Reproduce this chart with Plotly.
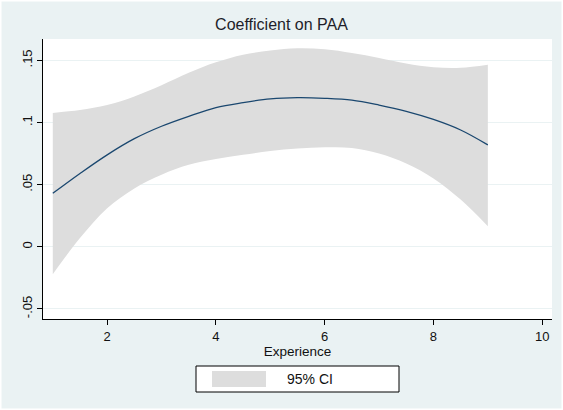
import plotly.graph_objects as go

# Data
experience = [1, 1.5, 2, 2.5, 3, 3.5, 4, 4.5, 5, 5.5, 6, 6.5, 7, 7.5, 8, 8.5, 9]
coef = [0.043, 0.059, 0.074, 0.087, 0.097, 0.105, 0.112, 0.116, 0.119, 0.120,
        0.1195, 0.118, 0.114, 0.109, 0.1025, 0.094, 0.082]
ci_upper = [0.1077, 0.110, 0.114, 0.121, 0.130, 0.140, 0.1484, 0.1545, 0.158, 0.1598,
            0.159, 0.156, 0.152, 0.1475, 0.1445, 0.1440, 0.1465]
ci_lower = [-0.022, 0.007, 0.031, 0.047, 0.058, 0.066, 0.0707, 0.074, 0.077, 0.079,
            0.080, 0.0795, 0.075, 0.067, 0.055, 0.038, 0.0166]

x_ticks = [2, 4, 6, 8, 10]
y_ticks = [-0.05, 0, 0.05, 0.1, 0.15]
y_tick_labels = ["-.05", "0", ".05", ".1", ".15"]

BG = "#EAF2F3"
CI_COLOR = "#DDDDDD"
LINE_COLOR = "#1A476F"
FONT = "Liberation Sans, Arial, sans-serif"

fig = go.Figure()
fig.add_trace(go.Scatter(
    x=experience, y=ci_lower, mode="lines", line_shape="spline",
    line=dict(width=0, color=CI_COLOR), showlegend=False, hoverinfo="skip",
))
fig.add_trace(go.Scatter(
    x=experience, y=ci_upper, mode="lines", line_shape="spline",
    fill="tonexty", fillcolor=CI_COLOR, line=dict(width=0, color=CI_COLOR),
    name="95% CI", showlegend=False, hoverinfo="skip",
))
fig.add_trace(go.Scatter(
    x=experience, y=coef, mode="lines", line_shape="spline",
    line=dict(color=LINE_COLOR, width=1.3), showlegend=False,
))

fig.update_layout(
    width=563, height=410,
    margin=dict(l=43, r=11, t=39, b=91),
    paper_bgcolor=BG, plot_bgcolor="white",
    font=dict(family=FONT, size=13, color="#111111"),
    title=dict(text="Coefficient on PAA", x=0.5, xanchor="center",
               y=1 - 24 / 410, yanchor="middle",
               font=dict(size=16, color="#1E1E2A")),
    showlegend=False,
)
fig.update_xaxes(
    range=[0.82, 10.18], tickvals=x_ticks, ticks="outside", ticklen=5,
    tickcolor="black", showline=True, linecolor="black", linewidth=1,
    showgrid=False, zeroline=False, tickfont=dict(size=13), automargin=False,
    title=dict(text="Experience", font=dict(size=13.5), standoff=1),
)
fig.update_yaxes(
    range=[-0.0581, 0.1672], tickvals=y_ticks, ticktext=y_tick_labels,
    ticks="outside", ticklen=5, tickcolor="black", showline=True,
    linecolor="black", linewidth=1, showgrid=True, gridcolor=BG,
    gridwidth=1, zeroline=False, tickangle=-90, tickfont=dict(size=13),
    automargin=False,
)

# Thin white outer frame of the graph region
fig.add_shape(type="rect", xref="paper", yref="paper",
              x0=-43 / 509, x1=1 + 11 / 509, y0=-91 / 280, y1=1 + 39 / 280,
              line=dict(color="white", width=3), layer="above")

# Legend box (Stata style)
fig.add_shape(type="rect", xref="paper", yref="paper",
              x0=(196 - 43) / 509, x1=(399 - 43) / 509,
              y0=-(392 - 319) / 280, y1=-(366 - 319) / 280,
              line=dict(color="black", width=1), fillcolor="white", layer="above")
fig.add_shape(type="rect", xref="paper", yref="paper",
              x0=(212 - 43) / 509, x1=(266 - 43) / 509,
              y0=-(387 - 319) / 280, y1=-(371 - 319) / 280,
              line=dict(width=0), fillcolor=CI_COLOR, layer="above")
fig.add_annotation(text="95% CI", xref="paper", yref="paper",
                   x=(310 - 43) / 509, y=-(379 - 319) / 280,
                   showarrow=False, xanchor="center", yanchor="middle",
                   font=dict(size=14, color="#111111"))

fig.write_html("out.html", config={"displayModeBar": False},
               post_script="document.body.style.margin='0';document.body.style.padding='0';")
